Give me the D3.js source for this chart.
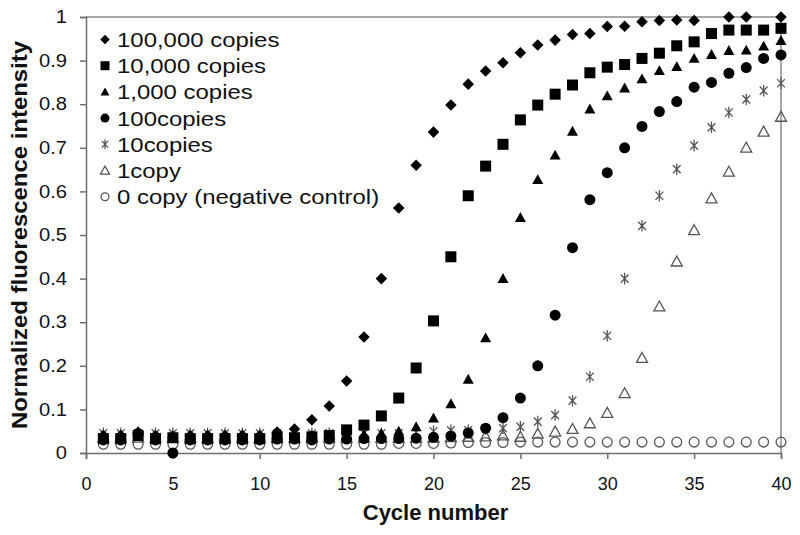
<!DOCTYPE html>
<html><head><meta charset="utf-8">
<script src="https://cdn.jsdelivr.net/npm/d3@7"></script>
<style>
body{margin:0;background:#fff;}
text{font-family:"Liberation Sans",Arial,sans-serif;}
</style></head><body>
<svg id="c" width="800" height="535"></svg>
<script>
const cycles = d3.range(1, 41);
const s100000 = [0.04,0.04,0.045,0.04,0.035,0.04,0.04,0.04,0.04,0.04,0.048,0.055,0.076,0.108,0.165,0.266,0.40,0.562,0.66,0.736,0.798,0.846,0.876,0.895,0.918,0.936,0.947,0.96,0.962,0.978,0.979,0.989,0.992,0.993,0.992,null,1.0,1.0,null,1.0];
const s10000 = [0.033,0.033,0.04,0.033,0.035,0.033,0.033,0.033,0.033,0.033,0.035,0.035,0.037,0.04,0.053,0.064,0.085,0.126,0.195,0.303,0.45,0.59,0.658,0.708,0.764,0.798,0.823,0.844,0.872,0.885,0.891,0.905,0.917,0.934,0.943,0.962,0.970,0.970,0.970,0.974];
const s1000 = [0.04,0.04,0.05,0.04,0.04,0.04,0.04,0.04,0.04,0.04,0.04,0.042,0.04,0.04,0.04,0.042,0.045,0.05,0.06,0.08,0.113,0.169,0.264,0.40,0.54,0.627,0.683,0.738,0.789,0.819,0.837,0.858,0.877,0.886,0.905,0.914,0.923,0.924,0.933,0.946];
const s100 = [0.03,0.03,0.045,0.03,0.0,0.03,0.03,0.03,0.03,0.03,0.032,0.032,0.03,0.032,0.032,0.033,0.033,0.033,0.034,0.036,0.039,0.046,0.057,0.081,0.126,0.20,0.316,0.471,0.581,0.643,0.70,0.749,0.783,0.806,0.839,0.85,0.871,0.884,0.905,0.913];
const s10 = [0.045,0.045,0.045,0.045,0.045,0.045,0.045,0.045,0.045,0.045,0.045,0.045,0.045,0.045,0.045,0.045,0.045,0.045,0.047,0.05,0.052,0.052,0.055,0.057,0.06,0.072,0.087,0.12,0.175,0.269,0.40,0.521,0.59,0.651,0.705,0.747,0.781,0.811,0.831,0.848];
const s1 = [0.035,0.035,0.035,0.035,0.035,0.035,0.035,0.035,0.035,0.035,0.035,0.035,0.035,0.035,0.035,0.035,0.035,0.035,0.035,0.035,0.036,0.037,0.038,0.04,0.037,0.044,0.049,0.055,0.068,0.092,0.137,0.218,0.336,0.439,0.511,0.584,0.645,0.70,0.737,0.771];
const s0 = [0.02,0.02,0.02,0.02,0.02,0.02,0.02,0.02,0.02,0.02,0.02,0.02,0.02,0.02,0.02,0.02,0.02,0.022,0.022,0.022,0.023,0.024,0.024,0.024,0.025,0.025,0.025,0.025,0.025,0.025,0.025,0.025,0.025,0.025,0.025,0.025,0.025,0.025,0.025,0.025];
const seriesNames = ["100,000 copies","10,000 copies","1,000 copies","100copies","10copies","1copy","0 copy (negative control)"];
const seriesData = [s100000, s10000, s1000, s100, s10, s1, s0];
const seriesShape = ["diamond","square","triangle","circle","asterisk","opentri","opencircle"];
const xTicks = [0,5,10,15,20,25,30,35,40];
const yTicks = [0,0.1,0.2,0.3,0.4,0.5,0.6,0.7,0.8,0.9,1];

const svg = d3.select("#c");
const L = 86, R = 781, T = 17, B = 453;
const x = d3.scaleLinear().domain([0,40]).range([L,R]);
const y = d3.scaleLinear().domain([0,1]).range([B,T]);

function stretch(sel, k){
  sel.each(function(){ const w = this.getComputedTextLength(); d3.select(this).attr("textLength", w*k).attr("lengthAdjust","spacingAndGlyphs"); });
}

// frame (top & right)
svg.append("line").attr("x1",L).attr("x2",R).attr("y1",T).attr("y2",T).attr("stroke","#8a8a8a").attr("stroke-width",1.5);
svg.append("line").attr("x1",R).attr("x2",R).attr("y1",T).attr("y2",B).attr("stroke","#8a8a8a").attr("stroke-width",1.5);

// axes
const xAxis = svg.append("g").attr("transform",`translate(0,${B})`)
  .call(d3.axisBottom(x).tickValues(xTicks).tickSize(6).tickPadding(18).tickFormat(d3.format("d")));
const yAxis = svg.append("g").attr("transform",`translate(${L},0)`)
  .call(d3.axisLeft(y).tickValues(yTicks).tickSize(6).tickPadding(13).tickFormat(d => d===0||d===1 ? String(d) : d3.format(".1f")(d)));
[xAxis,yAxis].forEach(g=>{
  g.select(".domain").attr("stroke","#6e6e6e").attr("stroke-width",1.5);
  g.selectAll(".tick line").attr("stroke","#6e6e6e").attr("stroke-width",1.5);
  g.selectAll("text").attr("fill","#111").style("font-size","18px").style("font-family","'Liberation Sans',Arial,sans-serif");
});
stretch(yAxis.selectAll("text"), 1.12);

// titles
svg.append("text").attr("x",(L+R)/2 + 2).attr("y",520).attr("text-anchor","middle")
  .style("font-size","22px").style("font-weight","bold").attr("fill","#111").text("Cycle number");
svg.append("text").attr("transform","translate(27,235) rotate(-90)").attr("text-anchor","middle")
  .style("font-size","22px").style("font-weight","bold").attr("fill","#111").text("Normalized fluorescence intensity")
  .call(s=>{ s.attr("textLength",388).attr("lengthAdjust","spacingAndGlyphs"); });

// markers
function drawMarker(g, shape, cx, cy, s){
  const h = s/2;
  switch(shape){
    case "diamond": g.append("path").attr("d",`M${cx},${cy-h*1.05}L${cx+h*1.05},${cy}L${cx},${cy+h*1.05}L${cx-h*1.05},${cy}Z`).attr("fill","#000"); break;
    case "square": g.append("rect").attr("x",cx-h).attr("y",cy-h).attr("width",s).attr("height",s).attr("fill","#000"); break;
    case "triangle": g.append("path").attr("d",`M${cx},${cy-h}L${cx+h},${cy+h*0.8}L${cx-h},${cy+h*0.8}Z`).attr("fill","#000"); break;
    case "circle": g.append("circle").attr("cx",cx).attr("cy",cy).attr("r",h).attr("fill","#000"); break;
    case "asterisk": g.append("path").attr("d",`M${cx},${cy-h*1.05}L${cx},${cy+h*1.05}M${cx-h*0.7},${cy-h*0.75}L${cx+h*0.7},${cy+h*0.75}M${cx-h*0.7},${cy+h*0.75}L${cx+h*0.7},${cy-h*0.75}`).attr("stroke","#555").attr("stroke-width",1.3).attr("fill","none"); break;
    case "opentri": g.append("path").attr("d",`M${cx},${cy-h}L${cx+h},${cy+h*0.8}L${cx-h},${cy+h*0.8}Z`).attr("fill","none").attr("stroke","#555").attr("stroke-width",1.3); break;
    case "opencircle": g.append("circle").attr("cx",cx).attr("cy",cy).attr("r",h-0.6).attr("fill","none").attr("stroke","#555").attr("stroke-width",1.3); break;
  }
}
const plot = svg.append("g");
for(let si = seriesData.length-1; si>=0; si--){
  const g = plot.append("g");
  seriesData[si].forEach((v,i)=>{
    if(v===null) return;
    drawMarker(g, seriesShape[si], x(cycles[i]), y(v), 11);
  });
}

// legend
const lg = svg.append("g");
seriesNames.forEach((n,i)=>{
  const cy = 39.5 + i*26.2;
  drawMarker(lg, seriesShape[i], 105, cy, 9);
  lg.append("text").attr("x",117).attr("y",cy+7.5).style("font-size","21px").attr("fill","#111").text(n);
});
stretch(lg.selectAll("text"), 1.14);
</script>
</body></html>
